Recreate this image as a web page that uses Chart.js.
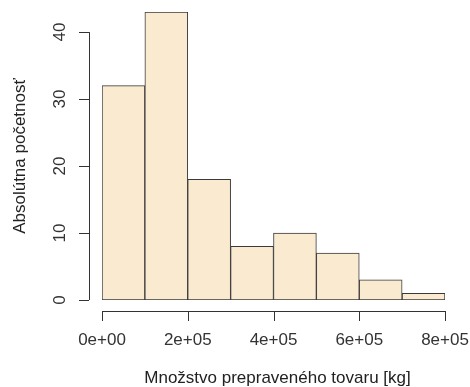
<!DOCTYPE html>
<html>
<head>
<meta charset="utf-8">
<script src="https://cdn.jsdelivr.net/npm/chart.js@4.4.0/dist/chart.umd.min.js"></script>
<style>
    html, body { margin: 0; padding: 0; background: #fff; }
    #wrap { width: 470px; height: 387px; }
</style>
</head>
<body>
<div id="wrap"><canvas id="hist"></canvas></div>
<script>
// Histogram: triedy po 1e5 kg, absolútne početnosti
const binStarts = [0, 100000, 200000, 300000, 400000, 500000, 600000, 700000];
const binWidth = 100000;
const counts = [32, 43, 18, 8, 10, 7, 3, 1];
const xTicks = [0, 200000, 400000, 600000, 800000];
const xTickLabels = ['0e+00', '2e+05', '4e+05', '6e+05', '8e+05'];
const yTicks = [0, 10, 20, 30, 40];

const FONT = '17px "Liberation Sans", Arial, sans-serif';
const AXIS_COLOR = '#333';

/**
 * Osi v štýle R: odsadené od plochy grafu
 */
const rAxes = {
    id: 'rAxes',
    afterDraw(chart) {
        const ctx = chart.ctx;
        const xs = chart.scales.x;
        const ys = chart.scales.y;
        const area = chart.chartArea;
        const axisX = area.left - 13;   // poloha osi y
        const axisY = area.bottom + 11; // poloha osi x

        ctx.save();
        ctx.strokeStyle = AXIS_COLOR;
        ctx.fillStyle = AXIS_COLOR;
        ctx.lineWidth = 1;
        ctx.font = FONT;

        // os x
        ctx.beginPath();
        ctx.moveTo(xs.getPixelForValue(xTicks[0]), axisY + 0.5);
        ctx.lineTo(xs.getPixelForValue(xTicks[xTicks.length - 1]), axisY + 0.5);
        xTicks.forEach(v => {
            const px = Math.round(xs.getPixelForValue(v)) + 0.5;
            ctx.moveTo(px, axisY);
            ctx.lineTo(px, axisY + 10);
        });
        ctx.stroke();
        ctx.textAlign = 'center';
        ctx.textBaseline = 'middle';
        xTicks.forEach((v, i) => {
            ctx.fillText(xTickLabels[i], xs.getPixelForValue(v), axisY + 29);
        });

        // os y
        ctx.beginPath();
        ctx.moveTo(axisX + 0.5, ys.getPixelForValue(yTicks[0]));
        ctx.lineTo(axisX + 0.5, ys.getPixelForValue(yTicks[yTicks.length - 1]));
        yTicks.forEach(v => {
            const py = Math.round(ys.getPixelForValue(v)) + 0.5;
            ctx.moveTo(axisX, py);
            ctx.lineTo(axisX - 10, py);
        });
        ctx.stroke();
        yTicks.forEach(v => {
            ctx.save();
            ctx.translate(axisX - 29, ys.getPixelForValue(v));
            ctx.rotate(-Math.PI / 2);
            ctx.fillText(String(v), 0, 0);
            ctx.restore();
        });

        // názvy osí
        ctx.fillStyle = '#222';
        ctx.fillText('Množstvo prepraveného tovaru [kg]', (area.left + area.right) / 2 + 4, 378);
        ctx.save();
        ctx.translate(20, (area.top + area.bottom) / 2);
        ctx.rotate(-Math.PI / 2);
        ctx.fillText('Absolútna početnosť', 0, 0);
        ctx.restore();

        ctx.restore();
    }
};

const ctx = document.getElementById('hist');
new Chart(ctx, {
    type: 'bar',
    data: {
        datasets: [{
            data: counts.map((c, i) => ({ x: binStarts[i] + binWidth / 2, y: c })),
            backgroundColor: '#FAEBD0',
            borderColor: '#3a3a3a',
            borderWidth: 1,
            borderSkipped: false,
            barPercentage: 1,
            categoryPercentage: 1
        }]
    },
    options: {
        responsive: true,
        maintainAspectRatio: false,
        animation: false,
        layout: {
            padding: { left: 102, right: 25, top: 12, bottom: 87 }
        },
        plugins: {
            legend: { display: false },
            tooltip: { enabled: false }
        },
        scales: {
            x: {
                type: 'linear',
                offset: false,
                min: 0,
                max: 800000,
                display: false
            },
            y: {
                min: 0,
                max: 43,
                display: false
            }
        }
    },
    plugins: [rAxes]
});
</script>
</body>
</html>
